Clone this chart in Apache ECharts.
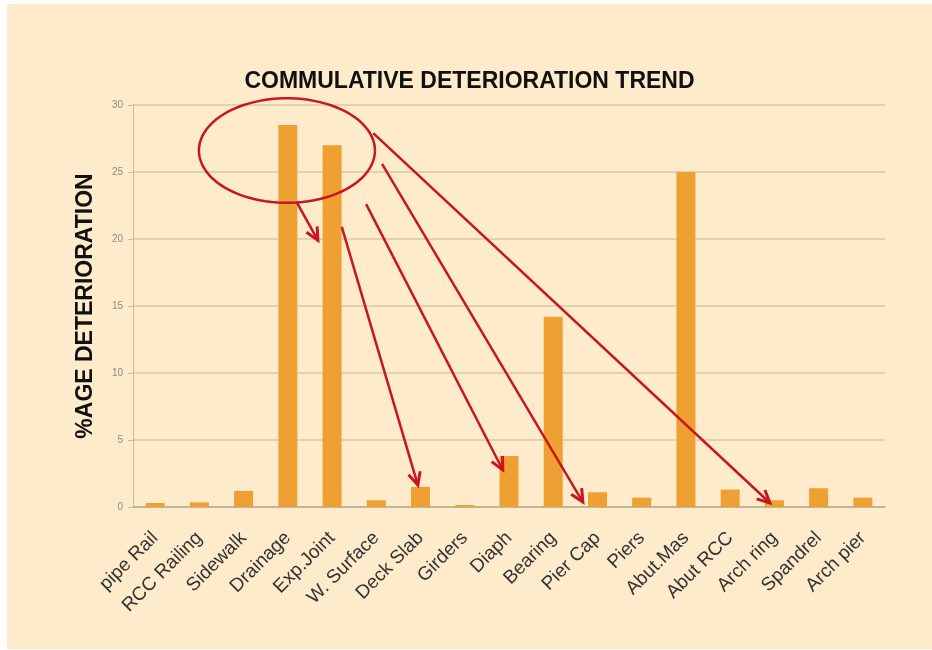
<!DOCTYPE html>
<html>
<head>
<meta charset="utf-8">
<script src="https://cdn.jsdelivr.net/npm/echarts@6/dist/echarts.min.js"></script>
<style>
    html, body { margin: 0; padding: 0; background: #ffffff; }
    #chart { position: absolute; left: 7px; top: 4px; width: 925px; height: 645px; }
</style>
</head>
<body>
<div id="chart"></div>
<script>
'use strict';

const categories = [
    'pipe Rail', 'RCC Railing', 'Sidewalk', 'Drainage', 'Exp.Joint', 'W. Surface',
    'Deck Slab', 'Girders', 'Diaph', 'Bearing', 'Pier Cap', 'Piers', 'Abut.Mas',
    'Abut RCC', 'Arch ring', 'Spandrel', 'Arch pier',
];
const deterioration = [
    0.3, 0.35, 1.2, 28.5, 27, 0.5, 1.5, 0.15, 3.8, 14.2, 1.1, 0.7, 25, 1.3, 0.5, 1.4, 0.7,
];

// annotations, in data units: [category index (fractional), value]
const ellipseCenter = [2.98, 26.6];
const ellipseRadius = [1.99, 3.9];
const arrows = [
    [[3.21, 22.7], [3.68, 19.9]],
    [[4.22, 20.9], [5.94, 1.64]],
    [[4.77, 22.6], [7.86, 2.76]],
    [[5.13, 25.6], [9.67, 0.37]],
    [[4.93, 27.9], [13.9, 0.3]],
];

const red = '#c8161e';

document.addEventListener('DOMContentLoaded', () => {
    const chart = echarts.init(document.getElementById('chart'));

    chart.setOption({
        backgroundColor: '#fdebcb',
        animation: false,
        title: {
            text: 'COMMULATIVE DETERIORATION TREND',
            left: 'center',
            top: 61,
            textStyle: {
                fontFamily: '"Liberation Sans Narrow", "Liberation Sans", Arial, sans-serif',
                fontWeight: 'bold',
                fontSize: 23,
                color: '#111111',
            },
        },
        grid: { left: 126, right: 47, top: 101, bottom: 142 },
        xAxis: {
            type: 'category',
            data: categories,
            axisLine: { lineStyle: { color: '#b8ab90', width: 1.5 } },
            axisTick: { show: false },
            axisLabel: {
                rotate: 45,
                interval: 0,
                margin: 28,
                fontFamily: '"Liberation Sans", Arial, sans-serif',
                fontSize: 19,
                color: '#333333',
            },
        },
        yAxis: {
            type: 'value',
            min: 0,
            max: 30,
            interval: 5,
            name: '%AGE DETERIORATION',
            nameLocation: 'middle',
            nameGap: 36,
            nameTextStyle: {
                fontFamily: '"Liberation Sans", Arial, sans-serif',
                fontWeight: 'bold',
                fontSize: 23,
                color: '#111111',
            },
            axisLine: { show: true, lineStyle: { color: '#c9bc9f', width: 1 } },
            axisTick: { show: true, length: 5, lineStyle: { color: '#c9bc9f' } },
            axisLabel: {
                margin: 10,
                fontFamily: '"Liberation Sans", Arial, sans-serif',
                fontSize: 10,
                color: '#8d8a80',
            },
            splitLine: { lineStyle: { color: '#d9c9a4', width: 1.5 } },
        },
        series: [{
            type: 'bar',
            data: deterioration,
            barWidth: 19,
            itemStyle: { color: '#efa032' },
        }],
    });

    // place the red annotations using the chart's own scales
    const p0 = chart.convertToPixel({ gridIndex: 0 }, [0, 0]);
    const p1 = chart.convertToPixel({ gridIndex: 0 }, [1, 30]);
    const step = p1[0] - p0[0];
    const perUnit = (p0[1] - p1[1]) / 30;
    const toPx = (d) => [p0[0] + d[0] * step, p0[1] - d[1] * perUnit];

    const graphics = [];

    const c = toPx(ellipseCenter);
    const rx = ellipseRadius[0] * step;
    const ry = ellipseRadius[1] * perUnit;
    const pts = [];
    for (let i = 0; i <= 90; i++) {
        const a = (i / 90) * Math.PI * 2;
        pts.push([c[0] + rx * Math.cos(a), c[1] + ry * Math.sin(a)]);
    }
    graphics.push({
        type: 'polyline',
        shape: { points: pts },
        style: { stroke: red, lineWidth: 2.5, fill: null },
        z: 100,
    });

    arrows.forEach(([from, to]) => {
        const a = toPx(from);
        const b = toPx(to);
        const ang = Math.atan2(b[1] - a[1], b[0] - a[0]);
        const len = 14;
        const spread = 0.45;
        const h1 = [b[0] - len * Math.cos(ang - spread), b[1] - len * Math.sin(ang - spread)];
        const h2 = [b[0] - len * Math.cos(ang + spread), b[1] - len * Math.sin(ang + spread)];
        graphics.push({
            type: 'line',
            shape: { x1: a[0], y1: a[1], x2: b[0], y2: b[1] },
            style: { stroke: red, lineWidth: 2.5 },
            z: 100,
        });
        graphics.push({
            type: 'polyline',
            shape: { points: [h1, b, h2] },
            style: { stroke: red, lineWidth: 3, fill: null, lineJoin: 'miter' },
            z: 100,
        });
    });

    chart.setOption({ graphic: graphics });
});
</script>
</body>
</html>
